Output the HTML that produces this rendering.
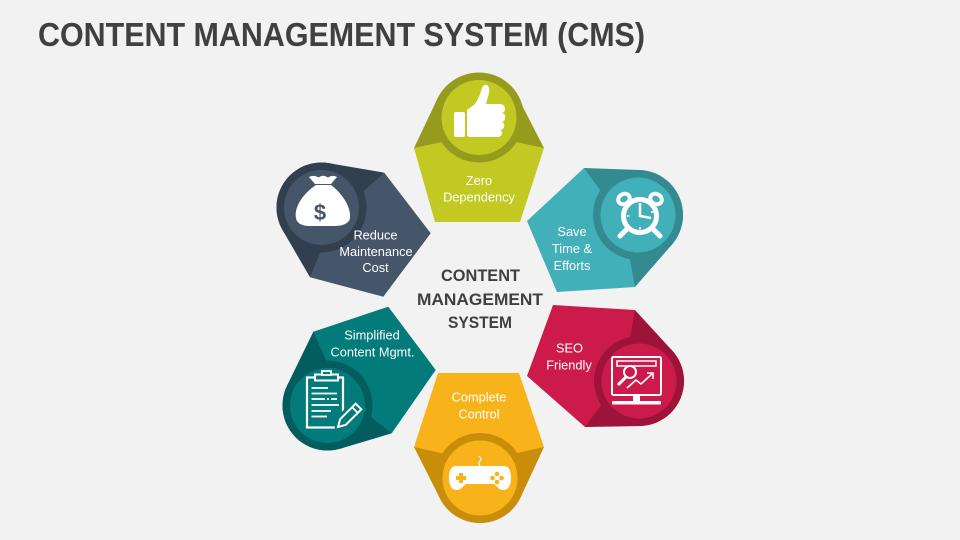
<!DOCTYPE html>
<html>
<head>
<meta charset="utf-8">
<style>
  html,body{margin:0;padding:0;background:#f2f2f2;}
  body{width:960px;height:540px;overflow:hidden;}
  svg{display:block;}
  .lbl{font-family:"Liberation Sans",sans-serif;font-size:12.8px;fill:#fff;text-anchor:middle;}
  .ttl{font-family:"Liberation Sans",sans-serif;font-weight:bold;fill:#404040;}
</style>
</head>
<body>
<svg width="960" height="540" viewBox="0 0 960 540" xmlns="http://www.w3.org/2000/svg">
  <rect width="960" height="540" fill="#f2f2f2"/>

  <!-- Title -->
  <text class="ttl" x="38" y="46" font-size="33" textLength="607" lengthAdjust="spacingAndGlyphs">CONTENT MANAGEMENT SYSTEM (CMS)</text>

  <!-- Center text -->
  <text class="ttl" x="441" y="281" font-size="16.5" textLength="79" lengthAdjust="spacingAndGlyphs">CONTENT</text>
  <text class="ttl" x="417" y="305" font-size="16.5" textLength="126" lengthAdjust="spacingAndGlyphs">MANAGEMENT</text>
  <text class="ttl" x="448" y="328" font-size="16.5" textLength="64" lengthAdjust="spacingAndGlyphs">SYSTEM</text>

  <!-- ===== Top: Zero Dependency (olive) ===== -->
  <g>
    <polygon points="414,148 437.4,98.7 518.6,98.7 544,148" fill="#959b1d"/>
    <circle cx="478" cy="118" r="45" fill="#959b1d"/>
    <polygon points="435,222 414,148 479,134 544,148 520,222" fill="#c3c923"/>
    <circle cx="479" cy="117.5" r="45" fill="#959b1d"/>
    <circle cx="479" cy="117.5" r="37.5" fill="#c3c923"/>
    <rect x="454" y="112" width="11" height="25" rx="2" fill="#fff"/>
    <path d="M467,110 L475,104 Q480,96 482,88 Q484,84 487,85 Q490,87 489,93 L486,104 L501,104 Q505,105 505,109 Q505,112 502,113 Q506,114 505,118 Q505,121 502,122 Q505,123 504,127 Q503,130 500,130 Q503,132 502,134 Q501,137 497,137 L470,137 Q467,137 467,134 Z" fill="#fff"/>
    <text class="lbl" x="479" y="185">Zero</text>
    <text class="lbl" x="479" y="201.5">Dependency</text>
  </g>

  <!-- ===== Save Time & Efforts (teal) ===== -->
  <g>
    <polygon points="584,168 639.6,170 671.9,244.6 635,287" fill="#338a90"/>
    <circle cx="638" cy="215" r="45" fill="#338a90"/>
    <polygon points="527,221 584,168 622.9,221.6 635,287 557,292" fill="#42b0b9"/>
    <circle cx="638" cy="215" r="45" fill="#338a90"/>
    <circle cx="638" cy="215" r="37.5" fill="#42b0b9"/>
    <g fill="none" stroke="#fff">
      <ellipse cx="624" cy="199" rx="6" ry="5" stroke-width="4" transform="rotate(-30 624 199)"/>
      <ellipse cx="656" cy="199" rx="6" ry="5" stroke-width="4" transform="rotate(30 656 199)"/>
      <line x1="628" y1="228" x2="620" y2="236" stroke-width="5" stroke-linecap="round"/>
      <line x1="652" y1="228" x2="660" y2="236" stroke-width="5" stroke-linecap="round"/>
    </g>
    <circle cx="640" cy="216" r="16.5" fill="#42b0b9" stroke="#fff" stroke-width="5"/>
    <g stroke="#fff" fill="none">
      <polyline points="640,203 640,216 651,218" stroke-width="2.5"/>
      <line x1="640" y1="227" x2="640" y2="229.5" stroke-width="1.5"/>
      <line x1="627" y1="216" x2="629.5" y2="216" stroke-width="1.5"/>
      <line x1="651" y1="212" x2="653.5" y2="212" stroke-width="1.5"/>
    </g>
    <text class="lbl" x="572" y="236">Save</text>
    <text class="lbl" x="572" y="253">Time &amp;</text>
    <text class="lbl" x="572" y="270">Efforts</text>
  </g>

  <!-- ===== SEO Friendly (crimson) ===== -->
  <g>
    <polygon points="635,310 672.2,350.6 639.8,426 585,427" fill="#9d1339"/>
    <circle cx="639" cy="381" r="45" fill="#9d1339"/>
    <polygon points="553,305 635,310 623.6,374.4 585,427 527,376" fill="#cc1b4b"/>
    <circle cx="639" cy="381" r="45" fill="#9d1339"/>
    <circle cx="639" cy="381" r="37.5" fill="#cc1b4b"/>
    <g fill="none" stroke="#fff" stroke-width="2">
      <rect x="612" y="357" width="49" height="38" rx="1.5"/>
      <rect x="617" y="361" width="39" height="5" stroke-width="1.5"/>
      <circle cx="630" cy="372" r="6"/>
      <line x1="626" y1="377" x2="618" y2="385" stroke-width="3"/>
      <polyline points="627,388 636,380 641,384 653,373" stroke-width="1.6"/>
      <polyline points="647,373 653,373 653,379" stroke-width="1.6"/>
    </g>
    <rect x="633" y="395" width="7" height="6" fill="#fff"/>
    <rect x="612" y="401" width="49" height="3.5" rx="1" fill="#fff"/>
    <text class="lbl" x="569.5" y="352.5">SEO</text>
    <text class="lbl" x="569" y="369.5">Friendly</text>
  </g>

  <!-- ===== Complete Control (gold) ===== -->
  <g>
    <polygon points="544,447 520.8,496.9 439.2,496.9 414,447" fill="#c98d0a"/>
    <circle cx="480" cy="478" r="45" fill="#c98d0a"/>
    <polygon points="438,373 519,373 544,447 479.5,461.6 414,447" fill="#f8b31b"/>
    <circle cx="480" cy="478" r="45" fill="#c98d0a"/>
    <circle cx="480" cy="478" r="37.5" fill="#f8b31b"/>
    <path d="M456,466 H504 C509,466 511,471 511,478 C511,486 508,490 503,490 C499,490 497,486 494,484 H466 C463,486 461,490 457,490 C452,490 449,486 449,478 C449,471 451,466 456,466 Z" fill="#fff"/>
    <path d="M480,466 Q478,463 480,461 Q482,459 479,456" fill="none" stroke="#fff" stroke-width="1.2"/>
    <rect x="456" y="476" width="10" height="4" fill="#f8b31b"/>
    <rect x="459" y="473" width="4" height="10" fill="#f8b31b"/>
    <circle cx="497" cy="474" r="2.3" fill="#f8b31b"/>
    <circle cx="501.5" cy="478" r="2.3" fill="#f8b31b"/>
    <circle cx="497" cy="482" r="2.3" fill="#f8b31b"/>
    <circle cx="492.5" cy="478" r="2.3" fill="#f8b31b"/>
    <text class="lbl" x="479" y="401.5">Complete</text>
    <text class="lbl" x="479" y="418.5">Control</text>
  </g>

  <!-- ===== Simplified Content Mgmt. (dark teal) ===== -->
  <g>
    <polygon points="313.3,331.7 287,385.8 340.4,448.6 391.7,433.3" fill="#035c5e"/>
    <circle cx="327.5" cy="405.5" r="45" fill="#035c5e"/>
    <polygon points="313.3,331.7 388.3,306.7 435.7,370 391.7,433.3 340.75,393.3" fill="#047b7b"/>
    <circle cx="327.5" cy="405.5" r="45" fill="#035c5e"/>
    <circle cx="327.5" cy="405.5" r="37.5" fill="#047b7b"/>
    <g fill="none" stroke="#fff" stroke-width="2.2">
      <rect x="307" y="377.5" width="36" height="50"/>
    </g>
    <rect x="315" y="374.5" width="23" height="6" fill="#047b7b" stroke="#fff" stroke-width="2"/>
    <rect x="322" y="371" width="9" height="4" fill="#047b7b" stroke="#fff" stroke-width="1.8"/>
    <g stroke="#fff" stroke-width="1.8">
      <line x1="311.5" y1="388" x2="328" y2="388"/>
      <line x1="311.5" y1="393.5" x2="337" y2="393.5"/>
      <line x1="311.5" y1="399" x2="325" y2="399"/>
      <line x1="327" y1="399" x2="329" y2="399"/>
      <line x1="331" y1="399" x2="337" y2="399"/>
      <line x1="311.5" y1="405" x2="339" y2="405"/>
      <line x1="311.5" y1="411" x2="331" y2="411"/>
      <line x1="311.5" y1="416.5" x2="327" y2="416.5"/>
    </g>
    <g transform="translate(338,427) rotate(-45)">
      <polygon points="0,0 7,-5 30,-5 30,5 7,5" fill="#047b7b" stroke="#047b7b" stroke-width="6"/>
      <polygon points="0,0 7,-4 29,-4 29,4 7,4" fill="#047b7b" stroke="#fff" stroke-width="2"/>
      <line x1="24" y1="-4" x2="24" y2="4" stroke="#fff" stroke-width="1.8"/>
    </g>
    <text class="lbl" x="372" y="339.5">Simplified</text>
    <text class="lbl" x="372.5" y="356.5">Content Mgmt.</text>
  </g>

  <!-- ===== Reduce Maintenance Cost (slate) ===== -->
  <g>
    <polygon points="384.3,172.7 329.2,163.2 282.6,230.1 310,277.3" fill="#323f4f"/>
    <circle cx="321.5" cy="207.5" r="45" fill="#323f4f"/>
    <polygon points="384.3,172.7 430.7,233.3 383.3,296.7 310,277.3 335.1,216.8" fill="#45556a"/>
    <circle cx="321.5" cy="207.5" r="45" fill="#323f4f"/>
    <circle cx="321.5" cy="207.5" r="37.5" fill="#45556a"/>
    <path d="M315,184 L309,177 Q314,174.5 318.5,177.5 Q323,174 328,177.5 Q332.5,174.5 337,177 L331,184 Z" fill="#fff"/>
    <path d="M316,185 C301,195 294,209 296,218 C297,224 303,226 310,226 L334,226 C342,226 349,224 350,218 C351,208 344,195 331,185 Z" fill="#fff"/>
    <text x="320" y="220" font-family="Liberation Sans,sans-serif" font-size="22" font-weight="bold" fill="#45556a" text-anchor="middle">$</text>
    <text class="lbl" x="375.5" y="239.5">Reduce</text>
    <text class="lbl" x="376" y="256">Maintenance</text>
    <text class="lbl" x="375.5" y="272">Cost</text>
  </g>
</svg>
</body>
</html>
